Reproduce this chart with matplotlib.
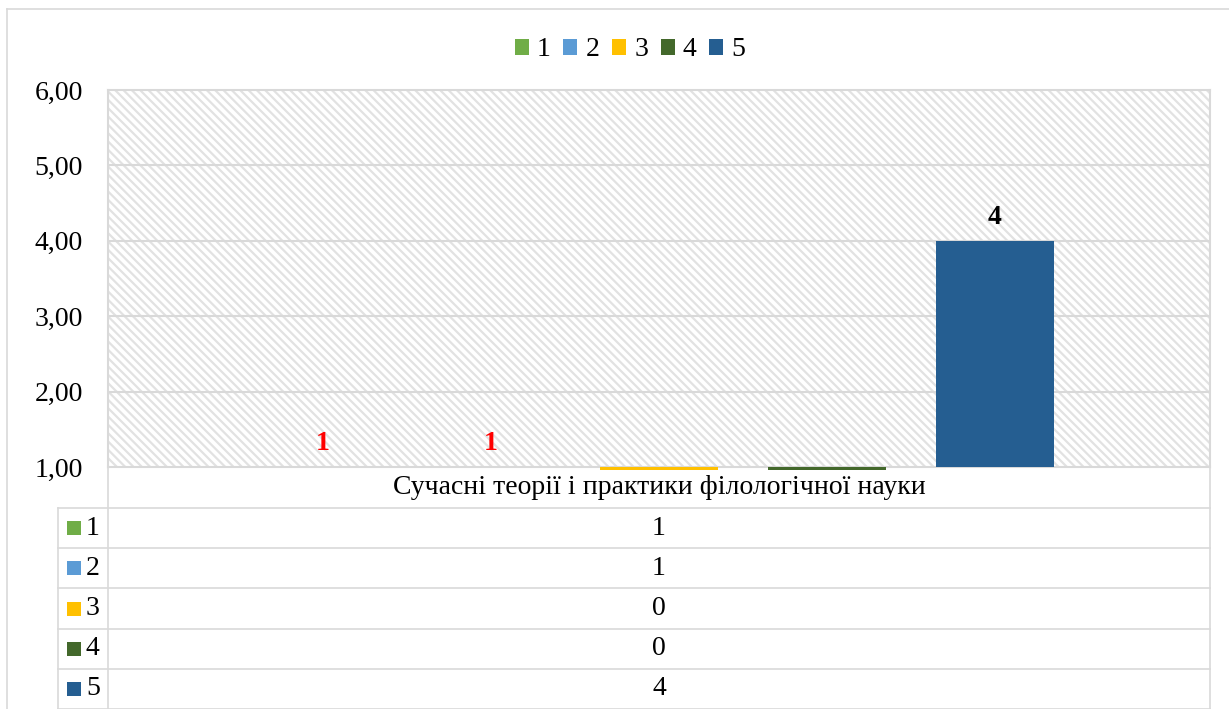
import matplotlib.pyplot as plt
from matplotlib.patches import Rectangle, Patch
from matplotlib.lines import Line2D

plt.rcParams['font.family'] = ['Liberation Serif', 'DejaVu Serif']
plt.rcParams['hatch.linewidth'] = 1.6

category = "Сучасні теорії і практики філологічної науки"
series = ["1", "2", "3", "4", "5"]
values = [1, 1, 0, 0, 4]
colors = ['#70ad47', '#5b9bd5', '#ffc000', '#43682b', '#255e91']
label_colors = ['#ff0000', '#ff0000', 'black', 'black', 'black']
yticks = [1, 2, 3, 4, 5, 6]

W, H = 1229, 709
grid_c = '#d9d9d9'
fs = 20


def fx(px):
    return px / W


def fy(py):
    return 1 - py / H


fig = plt.figure(figsize=(W / 100, H / 100), dpi=100)

# outer chart border
fig.add_artist(Line2D([fx(7), fx(7)], [0, fy(9)], color=grid_c, lw=1.2))
fig.add_artist(Line2D([fx(7), 1], [fy(9), fy(9)], color=grid_c, lw=1.2))

L, R, T, B = 108, 1210, 90, 467
ax = fig.add_axes([fx(L), fy(B), fx(R - L), (B - T) / H])
ax.add_patch(Rectangle((0, 0), 1, 1, transform=ax.transAxes, facecolor='white',
                       edgecolor='#e2e2e2', linewidth=0, hatch='\\\\\\\\', zorder=0))

x = list(range(len(values)))
bars = ax.bar(x, [v - 1 for v in values], bottom=1, width=0.702, color=colors, zorder=3)
clip = Rectangle((0, -0.009), 1, 1.02, transform=ax.transAxes)
for b in bars:
    b.set_clip_path(clip)

for xi, v, lc in zip(x, values, label_colors):
    if v >= 1:
        ax.annotate(str(v), (xi, v), xytext=(0, 8), textcoords='offset points',
                    ha='center', va='bottom', fontsize=fs, fontweight='bold', color=lc)

ax.set_xlim((L - 323) / 168, (R - 323) / 168)
ax.set_ylim(1, 6)
ax.set_yticks(yticks)
ax.set_yticklabels([f"{v:.2f}".replace('.', ',') for v in yticks], fontsize=fs)
ax.tick_params(axis='y', length=0, pad=18)
ax.set_xticks([])
for yv in yticks[1:-1]:
    ax.axhline(yv, color=grid_c, lw=1.5, zorder=1)
for s in ax.spines.values():
    s.set_color(grid_c)
    s.set_linewidth(1.5)

# top legend
handles = [Patch(facecolor=c, edgecolor='none', label=s) for s, c in zip(series, colors)]
fig.legend(handles=handles, loc='center', bbox_to_anchor=(fx(630), fy(50)), ncol=5,
           frameon=False, fontsize=fs, handlelength=0.5, handleheight=0.5,
           handletextpad=0.3, columnspacing=0.45, borderpad=0)

# data table
tl = dict(color=grid_c, lw=1.2)
row_top = 508
row_h = 40.2
n = len(series)
table_bottom = row_top + n * row_h
fig.add_artist(Line2D([fx(L), fx(L)], [fy(B), fy(table_bottom)], **tl))
fig.add_artist(Line2D([fx(R), fx(R)], [fy(B), fy(table_bottom)], **tl))
fig.add_artist(Line2D([fx(58), fx(58)], [fy(row_top), fy(table_bottom)], **tl))
for i in range(n + 1):
    yy = row_top + i * row_h
    fig.add_artist(Line2D([fx(58), fx(R)], [fy(yy), fy(yy)], **tl))

fig.text(fx((L + R) / 2), fy((B + row_top) / 2), category, ha='center', va='center', fontsize=fs)
for i, (s, c, v) in enumerate(zip(series, colors, values)):
    yc = row_top + (i + 0.5) * row_h
    fig.add_artist(Rectangle((fx(67), fy(yc + 7)), 14 / W, 14 / H, facecolor=c, edgecolor='none'))
    fig.text(fx(86), fy(yc), s, ha='left', va='center', fontsize=fs)
    fig.text(fx((L + R) / 2), fy(yc), str(v), ha='center', va='center', fontsize=fs)

fig.savefig('out.png', dpi=100)
